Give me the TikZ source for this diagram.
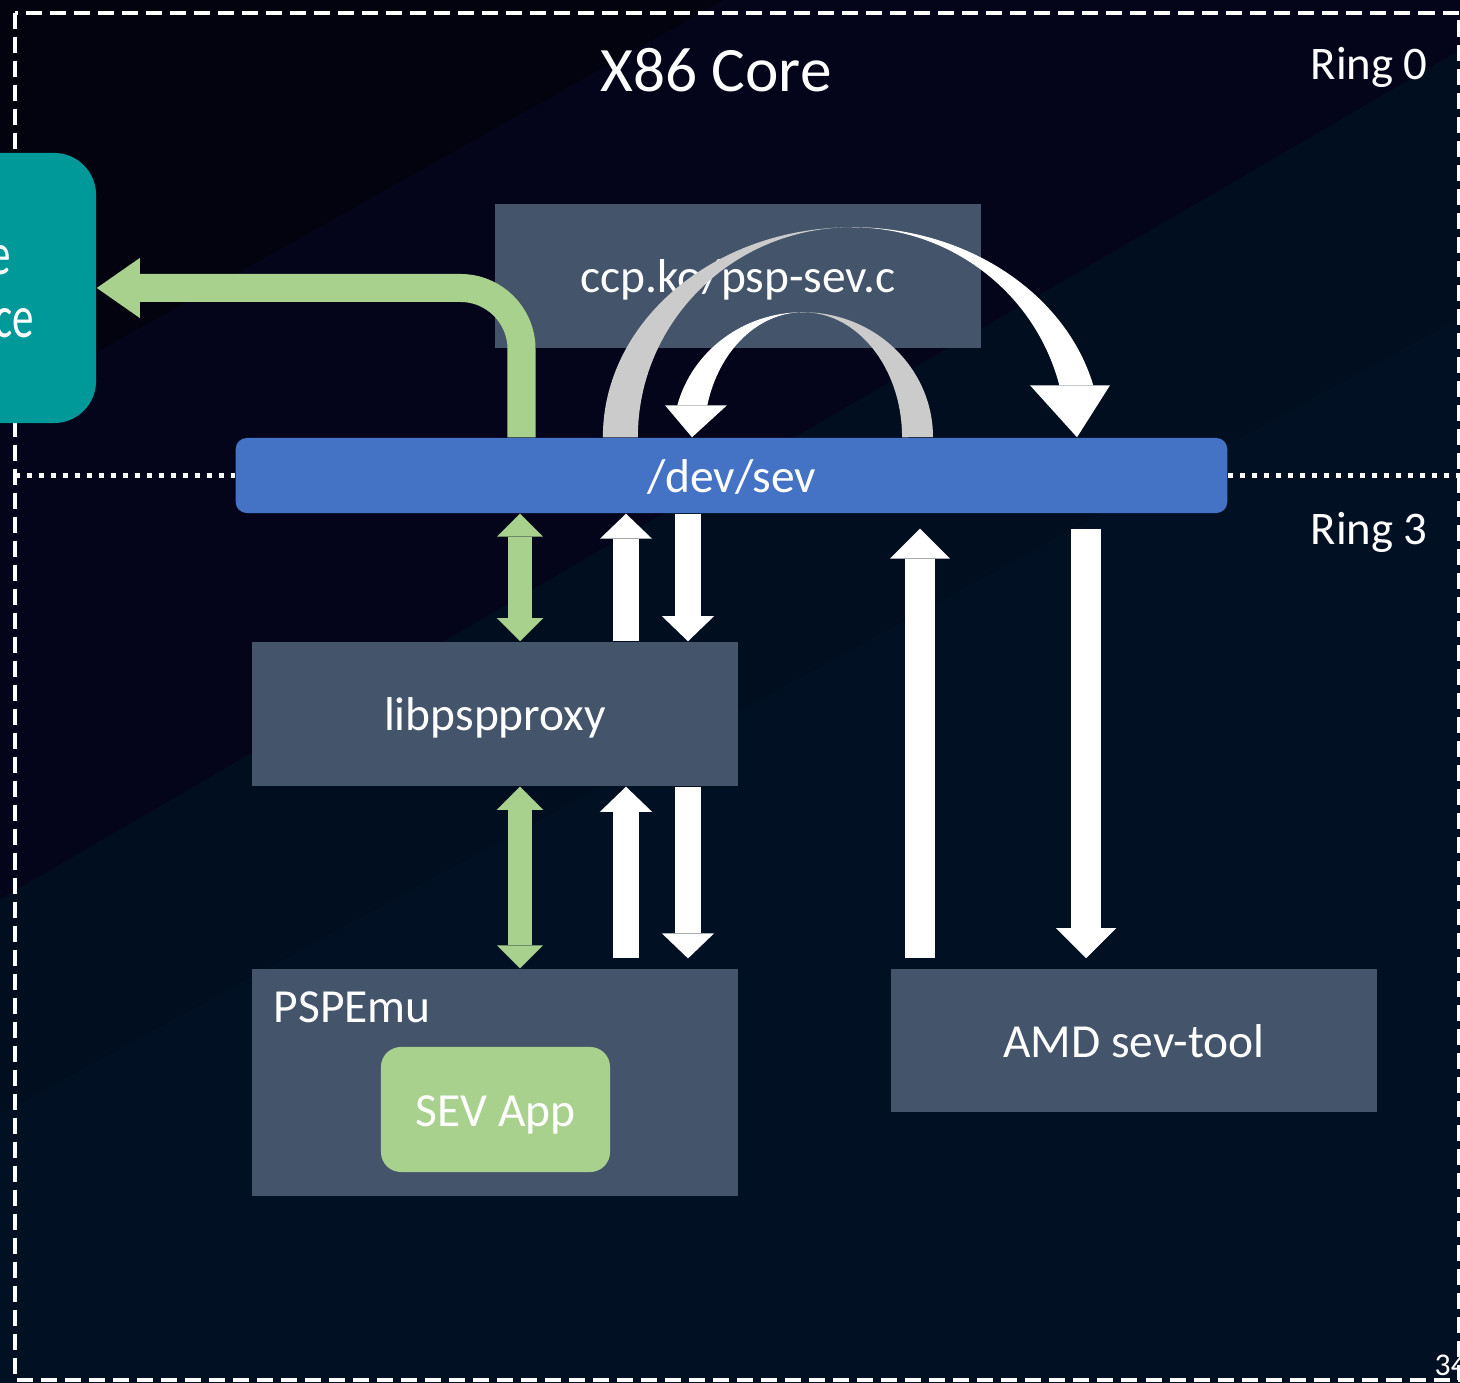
\documentclass[tikz,border=0pt]{standalone}
\usepackage{fontspec}
\setmainfont{Carlito}
\usetikzlibrary{arrows.meta,shapes}

\definecolor{slate}{HTML}{44546A}
\definecolor{devblue}{HTML}{4472C4}
\definecolor{leaf}{HTML}{A9D18E}
\definecolor{tealbox}{HTML}{009999}
\definecolor{ribbongray}{HTML}{CBCBCB}
\definecolor{bgA}{RGB}{3,3,15}
\definecolor{bgB}{RGB}{4,4,26}
\definecolor{bgC}{RGB}{1,14,31}
\definecolor{bgD}{RGB}{1,16,35}

\begin{document}
\begin{tikzpicture}[x=0.01cm,y=-0.01cm,shape=rectangle,
  box/.style={fill=slate,text=white,inner sep=0pt,minimum width=4.86cm,minimum height=1.43cm,
    text height=12.8pt,text depth=3.4pt,font=\fontsize{13.5}{16}\selectfont},
  pipe/.style={white,line width=0.26cm,-{Triangle[length=0.25cm,width=0.52cm,line width=0pt]}},
  bigpipe/.style={white,line width=0.3cm,-{Triangle[length=0.3cm,width=0.6cm,line width=0pt]}},
  duplex/.style={leaf,line width=0.23cm,
    {Triangle[length=0.23cm,width=0.46cm,line width=0pt]}-{Triangle[length=0.23cm,width=0.46cm,line width=0pt]}},
  ring/.style={text=white,inner sep=0pt,anchor=base west,font=\fontsize{13.3}{16}\selectfont},
  tealtext/.style={text=white,inner sep=0pt,anchor=base east,font=\fontsize{17}{20}\selectfont}]
\useasboundingbox (0,0) rectangle (1460,1383);

% background bands
\fill[bgC] (0,0) rectangle (1460,1383);
\fill[bgA] (0,0) -- (724,0) -- (0,407) -- cycle;
\fill[bgB] (724,0) -- (1460,0) -- (1460,50) -- (0,899) -- (0,407) -- cycle;
\fill[bgD] (1460,318) -- (1460,1383) -- (0,1383) -- (0,1114) -- cycle;

\draw[white,line width=0.045cm,dash pattern=on 0.16cm off 0.08cm] (15,13) rectangle (1459,1380);

\node (title) [text=white,anchor=base,inner sep=0pt,font=\fontsize{18}{22}\selectfont] at (716,92) {X86 Core};
\node (ring0) [ring] at (1310,80) {Ring 0};
\node (ring3) [ring] at (1310,545) {Ring 3};
\node (slideno) [text=white,inner sep=0pt,anchor=base west,font=\fontsize{9}{11}\selectfont] at (1434,1376) {34};

\node (teal) [fill=tealbox,rounded corners=0.42cm,minimum width=2.96cm,minimum height=2.7cm,inner sep=0pt] at (-52,288) {};
\node (tealtop) [tealtext] at (12,275) {\scalebox{0.72}[1]{e}};
\node (tealbot) [tealtext] at (35,338) {\scalebox{0.72}[1]{ce}};

\node (devsev) [fill=devblue,rounded corners=0.11cm,minimum width=9.91cm,minimum height=0.75cm,inner sep=0pt,
  text=white,text height=12.8pt,text depth=3.4pt,font=\fontsize{13.5}{16}\selectfont] at (731.5,475.5) {/dev/sev};
\draw[white,line width=0.05cm,dash pattern=on 0.05cm off 0.07cm] (15,0 |- devsev.west) -- (devsev.west);
\draw[white,line width=0.05cm,dash pattern=on 0.05cm off 0.07cm] (devsev.east) -- (1460,0 |- devsev.east);

\node (ccp) [box] at (738,276) {ccp.ko/psp-sev.c};
\node (libpsp) [box,minimum height=1.44cm] at (495,714) {libpspproxy};
\node (pspemu) [box,minimum height=2.27cm,below of=libpsp,node distance=3.685cm] {};
\node (emulabel) [text=white,inner sep=0pt,anchor=base west,font=\fontsize{13.5}{16}\selectfont] at (273,1023) {PSPEmu};
\node (sevapp) [box,fill=leaf,rounded corners=0.2cm,minimum width=2.29cm,minimum height=1.25cm] at (495.5,1109.5) {SEV App};
\node (amd) [box] at (1134,1040.5) {AMD sev-tool};

\draw[leaf,line width=0.28cm,rounded corners=0.61cm,-{Triangle[length=0.43cm,width=0.6cm,line width=0pt]}]
  (521.5,0 |- devsev.north) |- (teal.east);

% loops over /dev/sev
\coordinate (bigc) at (852,0 |- devsev.north);
\fill[ribbongray] ([xshift=-2.49cm]bigc) arc[start angle=180,end angle=270,x radius=249,y radius=210]
  arc[start angle=270,end angle=180,x radius=214,y radius=210] -- cycle;
\fill[white] ([yshift=2.1cm]bigc) arc[start angle=270,end angle=345.7,x radius=249,y radius=210]
  -- ([shift={(345.7:214 and 210)}]bigc) arc[start angle=345.7,end angle=270,x radius=214,y radius=210] -- cycle;
\fill[white] ([shift={(178,-52)}]bigc) -- ([shift={(258,-52)}]bigc) -- ([shift={(225,0)}]bigc) -- cycle;

\coordinate (smallc) at (803,0 |- devsev.north);
\fill[ribbongray] ([yshift=1.25cm]smallc) arc[start angle=270,end angle=360,x radius=130,y radius=125]
  -- ([xshift=0.99cm]smallc) arc[start angle=360,end angle=270,x radius=99,y radius=125] -- cycle;
\fill[white] ([yshift=1.25cm]smallc) arc[start angle=270,end angle=194.8,x radius=130,y radius=125]
  -- ([shift={(194.8:99 and 125)}]smallc) arc[start angle=194.8,end angle=270,x radius=99,y radius=125] -- cycle;
\fill[white] ([shift={(-138,-32)}]smallc) -- ([shift={(-76,-32)}]smallc) -- ([shift={(-111,0)}]smallc) -- cycle;

\draw[duplex] (520,0 |- devsev.south) -- (520,0 |- libpsp.north);
\draw[pipe] (626,0 |- libpsp.north) -- (626,0 |- devsev.south);
\draw[pipe] (688,0 |- devsev.south) -- (688,0 |- libpsp.north);

\coordinate (emutop) at ([yshift=0.1cm]pspemu.north);
\draw[duplex] (520,0 |- libpsp.south) -- (520,0 |- pspemu.north);
\draw[pipe] (626,0 |- emutop) -- (626,0 |- libpsp.south);
\draw[pipe] (688,0 |- libpsp.south) -- (688,0 |- emutop);

\coordinate (amdtop) at ([yshift=0.1cm]amd.north);
\coordinate (devlow) at ([yshift=-0.15cm]devsev.south);
\draw[bigpipe] (920,0 |- amdtop) -- (920,0 |- devlow);
\draw[bigpipe] (1086,0 |- devlow) -- (1086,0 |- amdtop);
\end{tikzpicture}
\end{document}
